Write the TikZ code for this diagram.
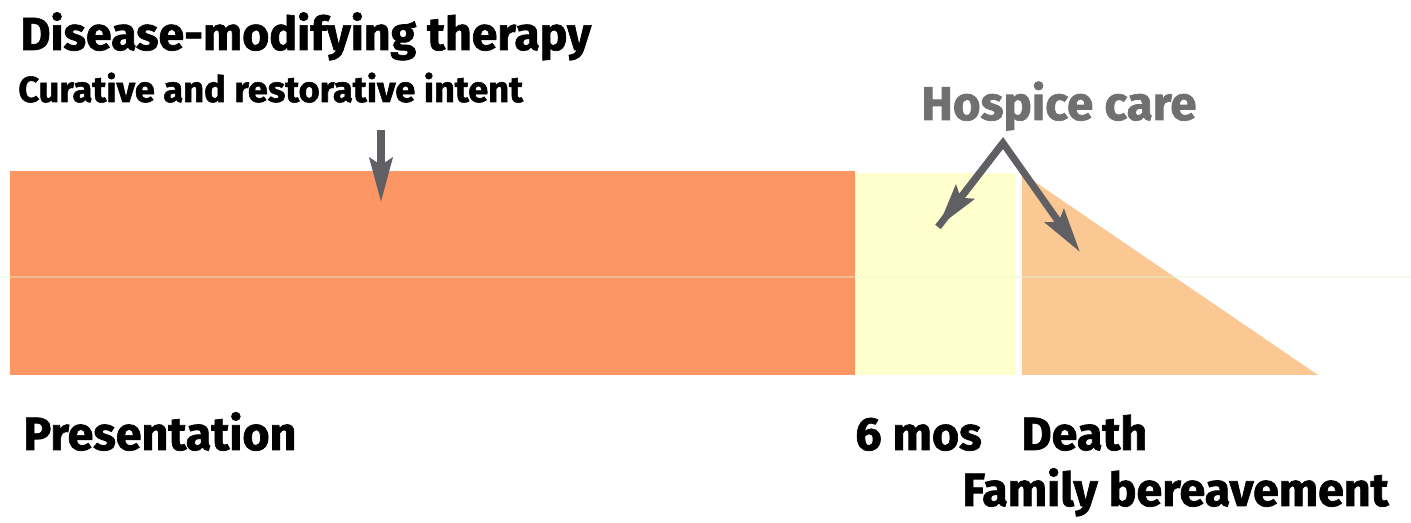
\documentclass[tikz,border=0pt]{standalone}
\usepackage{fontspec}
\setmainfont{Fira Sans}[BoldFeatures={FakeBold=1.5}]
\usepackage{tikz}
\usetikzlibrary{arrows.meta}
\definecolor{cureclr}{RGB}{252,150,100}
\definecolor{hospclr}{RGB}{255,255,206}
\definecolor{berclr}{RGB}{251,200,148}
\definecolor{arrclr}{RGB}{96,96,100}
\definecolor{hosptxt}{RGB}{112,112,112}
\definecolor{scanclr}{RGB}{226,246,204}
\tikzset{
  headline/.style={anchor=base west,inner sep=0pt,font=\fontsize{26.4}{30}\selectfont\bfseries},
  subline/.style={anchor=base west,inner sep=0pt,font=\fontsize{20.6}{24}\selectfont\bfseries},
  marker/.style={anchor=base west,inner sep=0pt,font=\fontsize{26.5}{30}\selectfont\bfseries},
  hosplabel/.style={anchor=base west,inner sep=0pt,text=hosptxt,font=\fontsize{27}{31}\selectfont\bfseries},
  pointer/.style={-{Stealth[length=25pt,width=13pt,inset=4pt]},line width=4pt,draw=arrclr},
}

\begin{document}
\begin{tikzpicture}[x=0.02cm,y=-0.02cm]
  \useasboundingbox (0,0) rectangle (1411,523);
  % ---- bands ----
  \fill[cureclr] (10,171) rectangle (855,375);
  \fill[hospclr] (855,173) rectangle (1016,375);
  \fill[berclr] (1022,173) -- (1022,375) -- (1318,375) -- cycle;
  \draw[scanclr,line width=0.6pt,opacity=0.4] (0,277) -- (1411,277);
  % ---- labels ----
  \node[headline] (dmt) at (20,50) {Disease-modifying therapy};
  \node[subline] (intent) at (18,102) {Curative and restorative intent};
  \node[hosplabel] (hosp) at (921,120) {Hospice care};
  \node[marker] (pres) at (23,450) {Presentation};
  \node[marker] (six) at (855,450) {6 mos};
  \node[marker] (death) at (1021,450) {Death};
  \node[marker] (fam) at (962,506) {Family bereavement};
  % ---- arrows ----
  \coordinate (cureTop) at (381,130);
  \coordinate (cureTip) at (381,202);
  \coordinate (apex) at (1003,143);
  \coordinate (hospTip) at (938,227);
  \coordinate (berTip) at (1080,252);
  \draw[pointer] (cureTop) -- (cureTip);
  \draw[pointer,line join=miter] (hospTip) -- (apex) -- (berTip);
  \draw[pointer] (apex) -- (hospTip);
\end{tikzpicture}
\end{document}
